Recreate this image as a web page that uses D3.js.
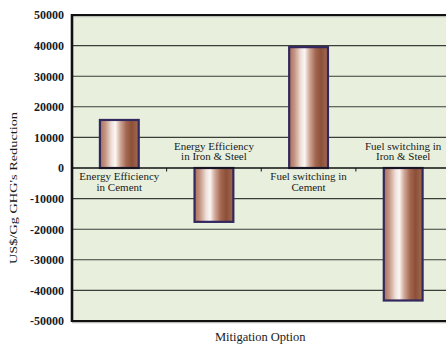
<!DOCTYPE html>
<html>
<head>
<meta charset="utf-8">
<script src="https://cdn.jsdelivr.net/npm/d3@7/dist/d3.min.js"></script>
<style>
  html, body { margin: 0; padding: 0; background: #ffffff; }
  svg { display: block; }
  text { font-family: "Liberation Serif", "Times New Roman", serif; fill: #1a1a1a; }
</style>
</head>
<body>
<svg id="chart" width="446" height="344"></svg>
<script>
// Mitigation options and their cost per Gg of GHG reduced
const categories = [
  "Energy Efficiency in Cement",
  "Energy Efficiency in Iron & Steel",
  "Fuel switching in Cement",
  "Fuel switching in Iron & Steel"
];
const labelLines = [
  ["Energy Efficiency", "in Cement"],
  ["Energy Efficiency", "in Iron & Steel"],
  ["Fuel switching in", "Cement"],
  ["Fuel switching in", "Iron & Steel"]
];
const values = [15700, -17600, 39500, -43300];
const yTicks = [50000, 40000, 30000, 20000, 10000, 0, -10000, -20000, -30000, -40000, -50000];
const yTitle = "US$/Gg GHG's Reduction";
const xTitle = "Mitigation Option";

const svg = d3.select("#chart");
const margin = { left: 72, top: 15, right: -4.5, bottom: 23 };
const W = 446, H = 344;
const x0 = margin.left, x1 = W - margin.right;
const yTop = margin.top, yBot = H - margin.bottom;

const x = d3.scaleBand().domain(categories).range([x0, x1]).padding(0);
const y = d3.scaleLinear().domain([-50000, 50000]).range([yBot, yTop]);

// bar fill: copper cylinder shading
const defs = svg.append("defs");
const grad = defs.append("linearGradient").attr("id", "copper")
  .attr("x1", "0%").attr("x2", "100%").attr("y1", "0%").attr("y2", "0%");
[
  [0, "#a86e58"], [0.14, "#c59684"], [0.3, "#efe0da"], [0.4, "#fbf6f4"],
  [0.52, "#d2ab9b"], [0.68, "#a36650"], [0.82, "#8c5038"], [1, "#a36a52"]
].forEach(([o, c]) => grad.append("stop").attr("offset", o).attr("stop-color", c));

// plot background
svg.append("rect")
  .attr("x", x0).attr("y", yTop)
  .attr("width", x1 - x0).attr("height", yBot - yTop)
  .attr("fill", "#e8f0dd");

// horizontal gridlines
svg.append("g")
  .selectAll("line")
  .data(yTicks.filter(d => d !== 0 && Math.abs(d) !== 50000))
  .join("line")
  .attr("x1", x0).attr("x2", x1)
  .attr("y1", d => y(d)).attr("y2", d => y(d))
  .attr("stroke", "#3a3d38").attr("stroke-width", 1.1);

// frame: top and bottom edges with soft shadow, heavy left edge
[y(50000), y(-50000)].forEach(yy => {
  svg.append("line").attr("x1", x0).attr("x2", x1)
    .attr("y1", yy + 1.6).attr("y2", yy + 1.6)
    .attr("stroke", "#b9bdb5").attr("stroke-width", 1.4);
  svg.append("line").attr("x1", x0).attr("x2", x1)
    .attr("y1", yy).attr("y2", yy)
    .attr("stroke", "#111").attr("stroke-width", 2);
});

// bars
const bw = x.bandwidth() * 0.41;
svg.append("g")
  .selectAll("rect")
  .data(values.map((v, i) => ({ v, c: categories[i] })))
  .join("rect")
  .attr("x", d => x(d.c) + (x.bandwidth() - bw) / 2)
  .attr("y", d => y(Math.max(0, d.v)))
  .attr("width", bw)
  .attr("height", d => Math.abs(y(d.v) - y(0)))
  .attr("fill", "url(#copper)")
  .attr("stroke", "#33285e").attr("stroke-width", 2.2);

// zero axis with category separators
svg.append("line").attr("x1", x0).attr("x2", x1)
  .attr("y1", y(0)).attr("y2", y(0))
  .attr("stroke", "#111").attr("stroke-width", 1.3);
svg.append("g").selectAll("line")
  .data(categories.slice(1))
  .join("line")
  .attr("x1", d => x(d)).attr("x2", d => x(d))
  .attr("y1", y(0)).attr("y2", y(0) + 3.5)
  .attr("stroke", "#111").attr("stroke-width", 1);

// left edge
svg.append("line").attr("x1", x0).attr("x2", x0)
  .attr("y1", yTop - 1).attr("y2", yBot + 1)
  .attr("stroke", "#111").attr("stroke-width", 2.6);

// y axis labels (plain hyphen for negatives)
const yAxis = d3.axisLeft(y).tickValues(yTicks).tickSize(0).tickPadding(8)
  .tickFormat(d => String(d));
const gy = svg.append("g").attr("transform", `translate(${x0},0)`).call(yAxis);
gy.select(".domain").remove();
gy.selectAll("text")
  .style("font-family", "'Liberation Serif', serif")
  .style("font-size", "12px")
  .style("font-weight", "bold")
  .attr("fill", "#222");

// category labels: below the zero line for gains, above it for savings
const lab = svg.append("g").selectAll("text")
  .data(labelLines.map((lines, i) => ({ lines, c: categories[i], v: values[i] })))
  .join("text")
  .attr("text-anchor", "middle")
  .style("font-size", "11px");
lab.each(function (d) {
  const t = d3.select(this);
  const cx = x(d.c) + x.bandwidth() / 2;
  const first = d.v >= 0 ? y(0) + 12 : y(0) - 18.5;
  d.lines.forEach((s, k) => {
    t.append("tspan").attr("x", cx).attr("y", first + k * 10.5).text(s);
  });
});

// axis titles
svg.append("text")
  .attr("transform", `translate(17,188) rotate(-90)`)
  .attr("text-anchor", "middle")
  .attr("textLength", 152)
  .attr("lengthAdjust", "spacingAndGlyphs")
  .style("font-size", "11px")
  .text(yTitle);

svg.append("text")
  .attr("x", (x0 + x1) / 2 - 1).attr("y", 341)
  .attr("text-anchor", "middle")
  .style("font-size", "12.5px")
  .text(xTitle);
</script>
</body>
</html>
